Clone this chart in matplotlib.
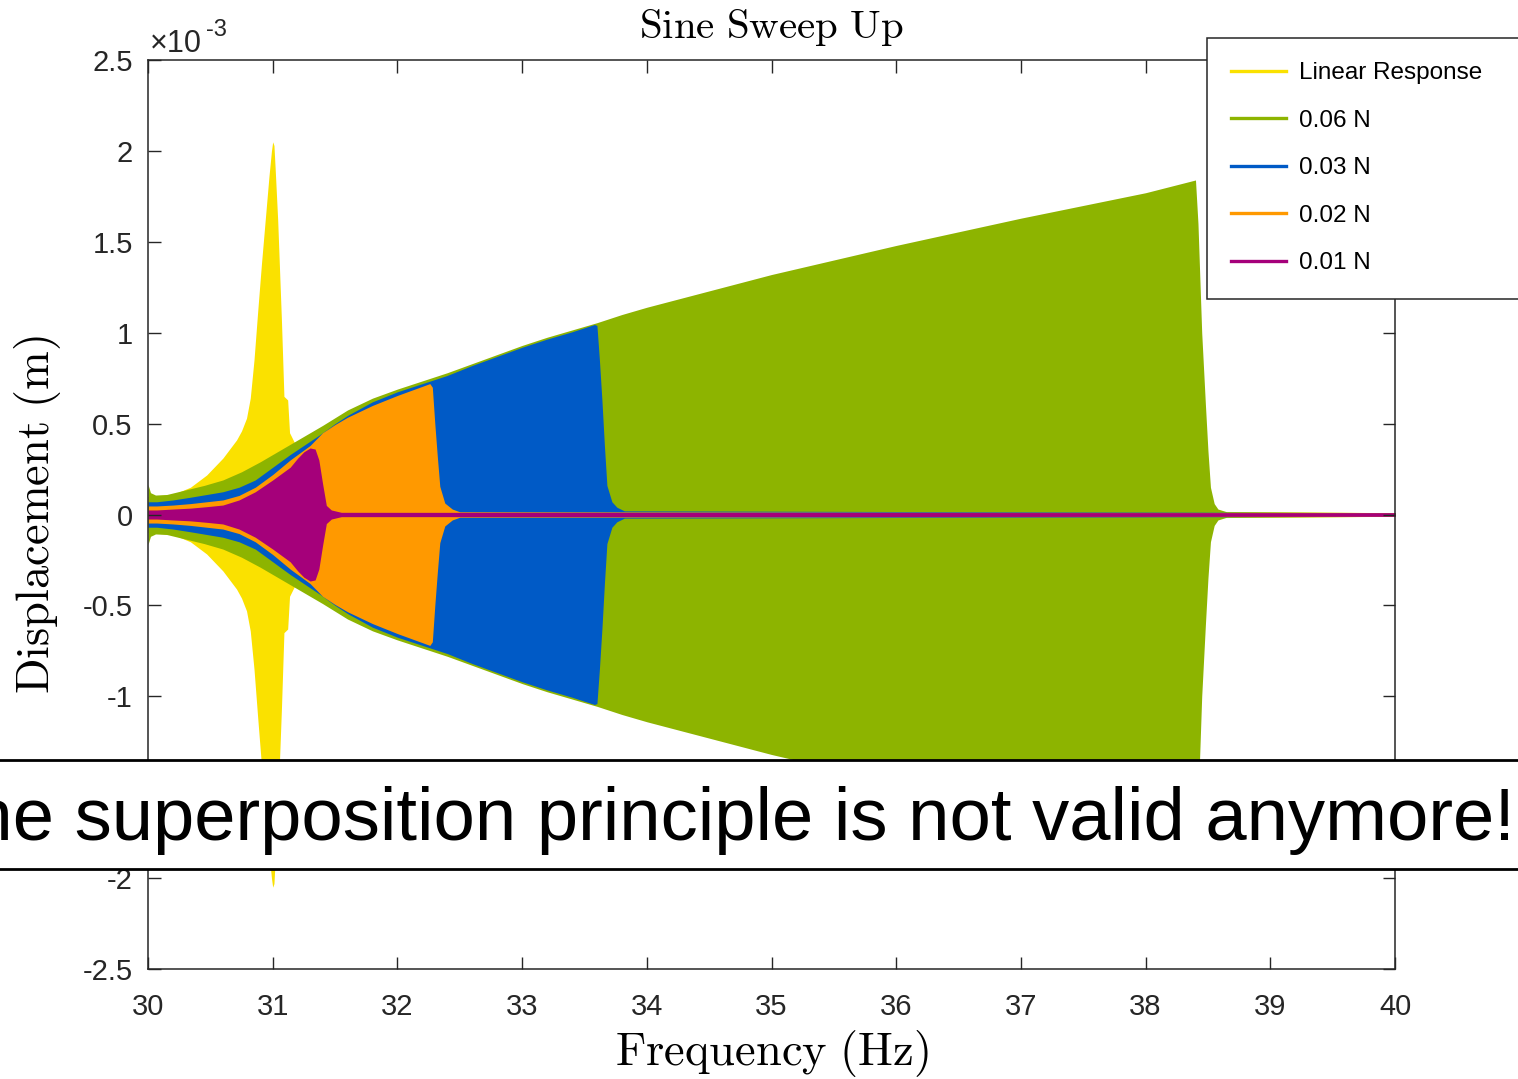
import numpy as np
import matplotlib
matplotlib.use('Agg')
import matplotlib.pyplot as plt
from matplotlib.lines import Line2D
from matplotlib.patches import Rectangle

plt.rcParams['mathtext.fontset'] = 'cm'
SANS = ['Liberation Sans', 'DejaVu Sans']

# ---------------- data (envelope amplitudes, x1e-3 m) ----------------
labels = ['Linear Response', '0.06 N', '0.03 N', '0.02 N', '0.01 N']
colors = ['#FAE100', '#8DB400', '#005AC6', '#FF9900', '#A5007A']

f_lin = [30.0, 30.2, 30.34, 30.47, 30.6, 30.71, 30.75, 30.79, 30.82, 30.85, 30.88,
         30.91, 30.94, 30.97, 30.99, 31.0, 31.01, 31.02, 31.04, 31.07, 31.09, 31.105,
         31.12, 31.135, 31.2, 31.5, 32.0, 33.0, 34.0, 36.0, 38.0, 40.0]
a_lin = [0.10, 0.11, 0.15, 0.217, 0.31, 0.41, 0.46, 0.53, 0.64, 0.85, 1.12,
         1.38, 1.62, 1.86, 2.0, 2.05, 2.03, 1.90, 1.62, 1.07, 0.65, 0.64,
         0.63, 0.45, 0.36, 0.30, 0.22, 0.12, 0.08, 0.04, 0.02, 0.010]

f_006 = [30.0, 30.02, 30.06, 30.15, 30.3, 30.45, 30.6, 30.75, 30.9, 31.05, 31.2, 31.4,
         31.6, 31.8, 32.0, 32.2, 32.4, 32.6, 32.8, 33.0, 33.2, 33.4, 33.6, 33.8,
         34.0, 34.5, 35.0, 35.5, 36.0, 36.5, 37.0, 37.5, 38.0, 38.4, 38.42, 38.45,
         38.48, 38.50, 38.52, 38.55, 38.58, 38.65, 40.0]
a_006 = [0.165, 0.12, 0.107, 0.11, 0.135, 0.16, 0.19, 0.235, 0.29, 0.35, 0.41, 0.49,
         0.575, 0.64, 0.69, 0.735, 0.78, 0.83, 0.88, 0.93, 0.975, 1.015, 1.055, 1.10,
         1.14, 1.23, 1.32, 1.40, 1.48, 1.555, 1.63, 1.70, 1.77, 1.84, 1.60, 1.00,
         0.60, 0.35, 0.15, 0.06, 0.03, 0.015, 0.010]

f_003 = [30.0, 30.07, 30.2, 30.34, 30.47, 30.6, 30.73, 30.86, 31.0, 31.14, 31.26, 31.38,
         31.5, 31.6, 31.8, 32.0, 32.2, 32.4, 32.6, 32.8, 33.0, 33.2, 33.4, 33.58, 33.60,
         33.62, 33.64, 33.66, 33.68, 33.72, 33.76, 33.82, 40.0]
a_003 = [0.07, 0.07, 0.08, 0.095, 0.11, 0.125, 0.15, 0.19, 0.26, 0.33, 0.385, 0.44,
         0.50, 0.545, 0.62, 0.675, 0.72, 0.765, 0.82, 0.87, 0.92, 0.965, 1.005, 1.045, 1.04,
         0.85, 0.63, 0.38, 0.16, 0.07, 0.04, 0.02, 0.010]

f_002 = [30.0, 30.07, 30.2, 30.34, 30.47, 30.6, 30.73, 30.86, 31.0, 31.14, 31.22, 31.3,
         31.4, 31.5, 31.6, 31.8, 32.0, 32.2, 32.26, 32.28, 32.30, 32.32, 32.34, 32.38,
         32.44, 32.5, 40.0]
a_002 = [0.047, 0.047, 0.052, 0.06, 0.07, 0.08, 0.105, 0.15, 0.22, 0.30, 0.34, 0.38,
         0.45, 0.495, 0.535, 0.60, 0.655, 0.705, 0.72, 0.70, 0.50, 0.32, 0.155, 0.063,
         0.03, 0.015, 0.010]

f_001 = [30.0, 30.07, 30.2, 30.34, 30.47, 30.6, 30.73, 30.86, 31.0, 31.14, 31.2, 31.25,
         31.30, 31.34, 31.37, 31.40, 31.43, 31.47, 31.55, 40.0]
a_001 = [0.025, 0.025, 0.03, 0.035, 0.043, 0.052, 0.08, 0.125, 0.19, 0.26, 0.31, 0.345,
         0.366, 0.36, 0.30, 0.17, 0.05, 0.025, 0.012, 0.010]

freqs = [f_lin, f_006, f_003, f_002, f_001]
amps = [a_lin, a_006, a_003, a_002, a_001]

x_ticks = [30, 31, 32, 33, 34, 35, 36, 37, 38, 39, 40]
y_ticks = [-2.5, -2, -1.5, -1, -0.5, 0, 0.5, 1, 1.5, 2, 2.5]
y_ticklabels = ['-2.5', '-2', '-1.5', '-1', '-0.5', '0', '0.5', '1', '1.5', '2', '2.5']

# ---------------- figure ----------------
W, H = 1518, 1079
fig = plt.figure(figsize=(W / 100, H / 100), dpi=100)
ax = fig.add_axes([148 / W, 110 / H, 1247 / W, 909 / H])

for f, a, c in zip(freqs, amps, colors):
    f = np.asarray(f); a = np.asarray(a)
    ax.fill_between(f, -a, a, color=c, lw=0, antialiased=True)

ax.set_xlim(30, 40)
ax.set_ylim(-2.5, 2.5)
ax.set_xticks(x_ticks)
ax.set_xticklabels([str(t) for t in x_ticks])
ax.set_yticks(y_ticks)
ax.set_yticklabels(y_ticklabels)

spine_c = '#262626'
for s in ax.spines.values():
    s.set_color(spine_c)
    s.set_linewidth(1.1)
ax.tick_params(direction='in', length=9, width=1.0, color=spine_c,
               top=True, right=True, labelsize=21, labelcolor='#262626')
ax.tick_params(axis='x', pad=17)
ax.tick_params(axis='y', pad=11)
for lab in ax.get_xticklabels() + ax.get_yticklabels():
    lab.set_family(SANS)

ax.set_title(r'$\mathrm{Sine\ Sweep\ Up}$', fontsize=29.5, pad=16)
ax.set_xlabel(r'$\mathrm{Frequency\ (Hz)}$', fontsize=33.5, labelpad=5)
ax.set_ylabel(r'$\mathrm{Displacement\ (m)}$', fontsize=33.5, labelpad=14)

# exponent marker
fig.text(150 / W, 1 - 52 / H, '\u00d710', fontsize=22, family=SANS, color='#262626',
         va='baseline', ha='left')
fig.text(206 / W, 1 - 36 / H, '-3', fontsize=17, family=SANS, color='#262626',
         va='baseline', ha='left')

handles = [Line2D([], [], color=c, lw=2.4) for c in colors]
leg = ax.legend(handles, labels, loc='upper left',
                bbox_to_anchor=(1207 / W, 1 - 38 / H, 340 / W, 0),
                bbox_transform=fig.transFigure, mode='expand',
                prop={'family': SANS, 'size': 17.5}, frameon=True,
                fancybox=False, framealpha=1, edgecolor=spine_c,
                borderpad=1.0, labelspacing=1.05, handlelength=2.25,
                handletextpad=0.55, borderaxespad=0)
leg.get_frame().set_linewidth(1.1)

# banner
fig.add_artist(Rectangle((0, 1 - 870 / H), 1, 110 / H, transform=fig.transFigure,
                         facecolor='white', edgecolor='none', zorder=10))
for yy in (760, 869):
    fig.add_artist(Line2D([0, 1], [1 - yy / H, 1 - yy / H], transform=fig.transFigure,
                          color='black', lw=2.0, zorder=11))
fig.text(1515 / W, 1 - 840 / H, 'The superposition principle is not valid anymore!',
         fontsize=53.5, family=SANS, color='black', ha='right', va='baseline',
         zorder=12)

fig.savefig('out.png', dpi=100)
